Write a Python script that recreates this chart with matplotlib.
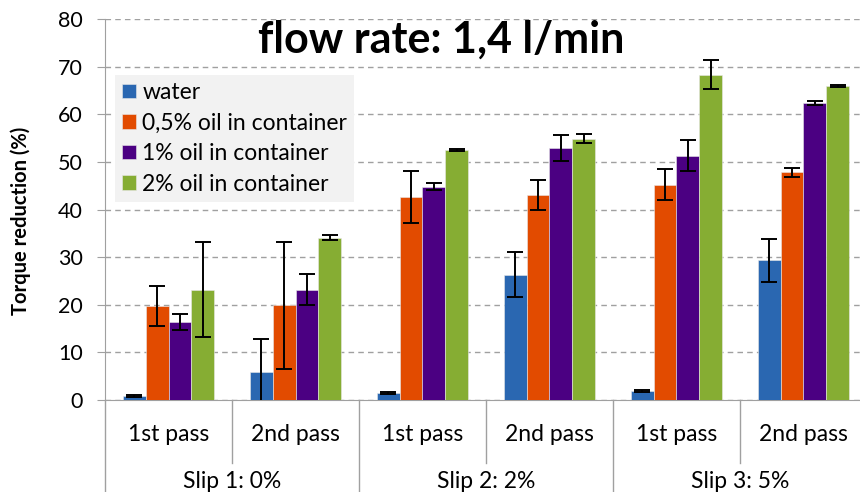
import numpy as np
import matplotlib
matplotlib.use("Agg")
import matplotlib.pyplot as plt
from matplotlib.transforms import blended_transform_factory

plt.rcParams["font.family"] = ["Lato", "DejaVu Sans"]

passes = ["1st pass", "2nd pass"] * 3
slips = ["Slip 1: 0%", "Slip 2: 2%", "Slip 3: 5%"]
series = ["water", "0,5% oil in container", "1% oil in container", "2% oil in container"]

water = [0.8, 5.8, 1.4, 26.3, 1.9, 29.3]
oil_05 = [19.7, 19.9, 42.6, 43.0, 45.2, 47.8]
oil_1 = [16.3, 23.2, 44.8, 52.9, 51.3, 62.4]
oil_2 = [23.2, 34.1, 52.4, 54.9, 68.3, 66.0]

water_err = [0.2, 7.0, 0.2, 4.7, 0.2, 4.5]
oil_05_err = [4.2, 13.3, 5.5, 3.1, 3.3, 0.9]
oil_1_err = [1.7, 3.3, 0.8, 2.8, 3.3, 0.4]
oil_2_err = [9.9, 0.5, 0.2, 0.9, 3.1, 0.2]

colors = ["#2A67B1", "#E24B00", "#4B0082", "#86AD33"]

values = [water, oil_05, oil_1, oil_2]
errors = [water_err, oil_05_err, oil_1_err, oil_2_err]

fig = plt.figure(figsize=(8.6, 4.92), dpi=100)
ax = fig.add_axes([105 / 860, 1 - 400 / 492, 762 / 860, 381 / 492])

x = np.arange(len(passes))
width = 0.18
for i, (vals, errs) in enumerate(zip(values, errors)):
    pos = x + (i - 1.5) * width
    ax.bar(pos, vals, width, color=colors[i], edgecolor="#E8E8E8", linewidth=0.4,
           label=series[i], zorder=3)
    ax.errorbar(pos, vals, yerr=errs, fmt="none", ecolor="black", elinewidth=1.4,
                capsize=6, capthick=1.4, zorder=4)

ax.set_xlim(-0.5, len(passes) - 0.5)
ax.set_ylim(0, 80)
ax.set_yticks(range(0, 81, 10))
ax.tick_params(axis="y", labelsize=15.5, length=6, color="#A0A0A0", pad=10)
ax.yaxis.grid(True, linestyle=(0, (4, 3)), color="#A0A0A0", linewidth=1, zorder=0)
ax.set_axisbelow(True)
for s in ["top", "right"]:
    ax.spines[s].set_visible(False)
for s in ["left", "bottom"]:
    ax.spines[s].set_color("#A0A0A0")
ax.set_ylabel("Torque reduction (%)", fontsize=14.5, fontweight="bold")
ax.yaxis.set_label_coords(-0.097, 0.47)

# category labels under the axis
ax.set_xticks(x)
ax.set_xticklabels(passes, fontsize=16.5)
ax.tick_params(axis="x", length=0, pad=17)
trans = blended_transform_factory(ax.transData, ax.transAxes)
for k, name in enumerate(slips):
    ax.text(2 * k + 0.5, -0.213, name, transform=trans, ha="center", va="center",
            fontsize=16.5)
for b in np.arange(-0.5, len(passes) + 0.5, 1.0):
    depth = -0.165 if (b + 0.5) % 2 == 1 else -0.5
    ax.plot([b, b], [0, depth], transform=trans, color="#A0A0A0", lw=1, clip_on=False)

leg = ax.legend(loc="upper left", bbox_to_anchor=(0.013, 0.853), fontsize=16.5,
                frameon=True, fancybox=False, facecolor="#F2F2F2", edgecolor="none",
                framealpha=1, handlelength=0.6, handleheight=0.6, handletextpad=0.3,
                labelspacing=0.42, borderpad=0.3, borderaxespad=0)
leg.set_zorder(5)

fig.text(441 / 860, 1 - 40 / 492, "flow rate: 1,4 l/min", ha="center", va="center",
         fontsize=31, fontweight="bold")

fig.savefig("out.png", dpi=100)
